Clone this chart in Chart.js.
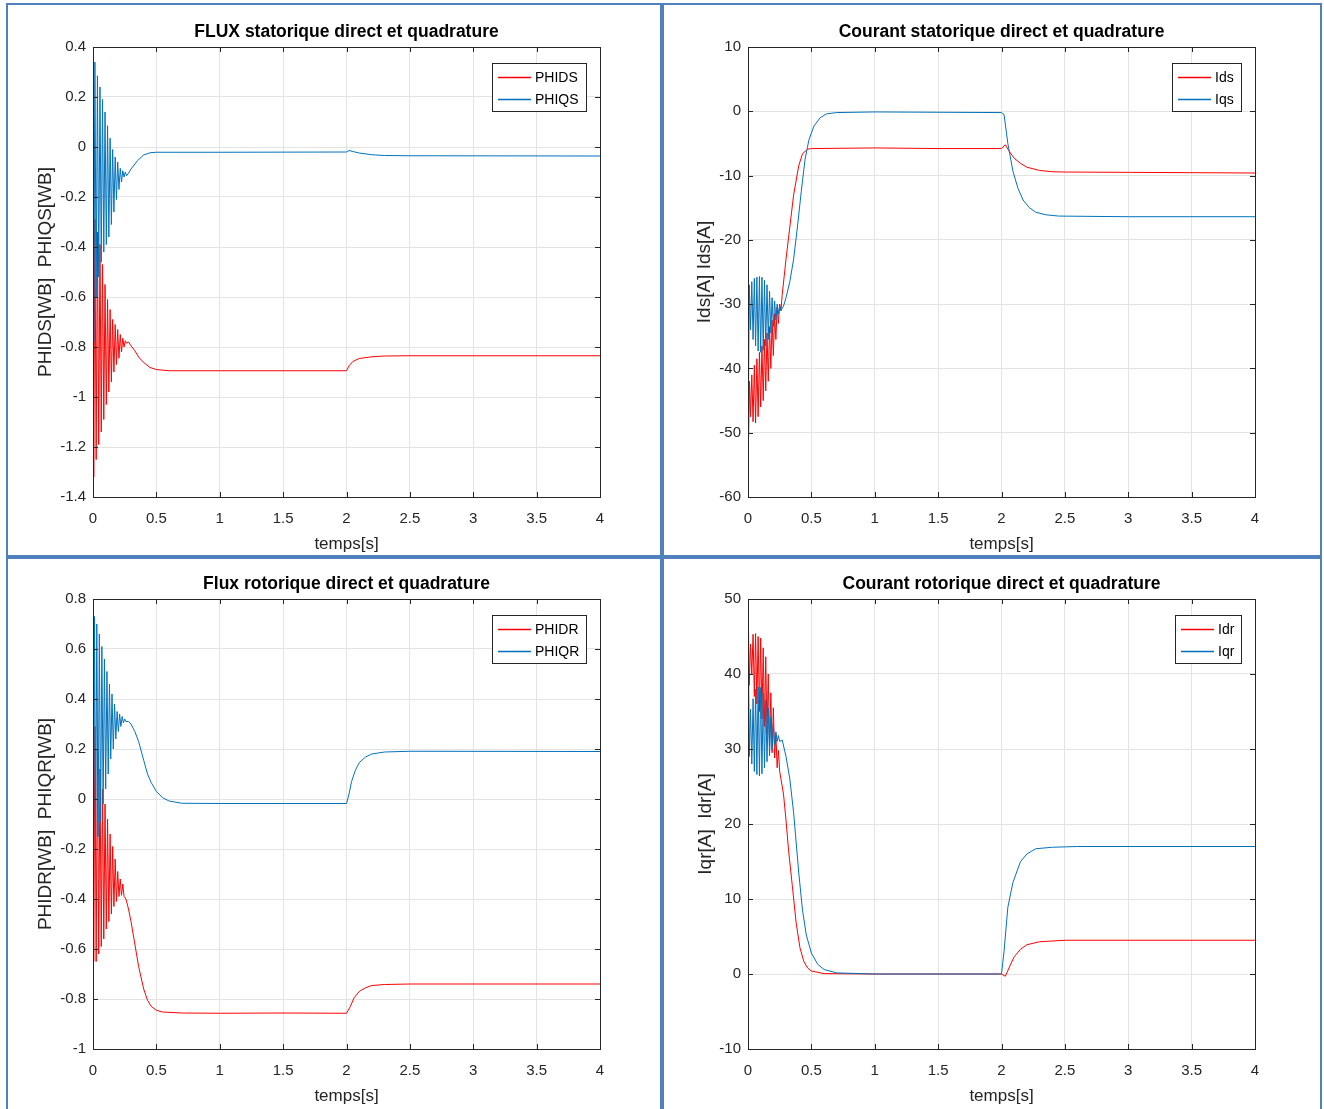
<!DOCTYPE html>
<html>
<head>
<meta charset="utf-8">
<script src="https://cdn.jsdelivr.net/npm/chart.js@4.4.1/dist/chart.umd.min.js"></script>
<style>
  body { margin: 0; background: #fff; width: 1324px; height: 1109px; overflow: hidden; position: relative; }
  .box { position: absolute; border: 2px solid #4f81bd; box-sizing: border-box; }
  canvas { position: absolute; }
</style>
</head>
<body>
<div class="box" style="left:6px;top:3px;width:656px;height:554px"></div>
<div class="box" style="left:662px;top:3px;width:660px;height:554px"></div>
<div class="box" style="left:6px;top:557px;width:656px;height:560px"></div>
<div class="box" style="left:662px;top:557px;width:660px;height:560px"></div>
<canvas id="c1" width="650" height="548" style="left:9px;top:7px"></canvas>
<canvas id="c2" width="655" height="548" style="left:664px;top:7px"></canvas>
<canvas id="c3" width="650" height="548" style="left:9px;top:559px"></canvas>
<canvas id="c4" width="655" height="548" style="left:664px;top:559px"></canvas>
<script>
// time axis ticks (s)
const xTickVals = [0, 0.5, 1, 1.5, 2, 2.5, 3, 3.5, 4];

// flux statorique
const yTicks1 = [-1.4, -1.2, -1, -0.8, -0.6, -0.4, -0.2, 0, 0.2, 0.4];
const tPhids = [0, 0.005, 0.015, 0.025, 0.035, 0.045, 0.055, 0.065, 0.075, 0.085, 0.095, 0.105, 0.115, 0.125,
  0.135, 0.145, 0.155, 0.165, 0.175, 0.185, 0.195, 0.205, 0.215, 0.225, 0.235, 0.245, 0.255, 0.265,
  0.28, 0.3, 0.33, 0.36, 0.4, 0.45, 0.5, 0.6, 1, 1.5, 2, 2.02, 2.05, 2.1, 2.2, 2.3, 2.5, 3, 4];
const phids = [0, -1.32, -0.29, -1.25, -0.34, -1.19, -0.39, -1.14, -0.47, -1.09, -0.55, -1.03, -0.61, -0.98,
  -0.65, -0.94, -0.69, -0.9, -0.71, -0.87, -0.73, -0.845, -0.75, -0.82, -0.765, -0.8, -0.775, -0.785,
  -0.78, -0.795, -0.815, -0.84, -0.862, -0.882, -0.89, -0.895, -0.895, -0.895, -0.895, -0.875, -0.858, -0.846, -0.839, -0.836, -0.835, -0.835, -0.835];
const tPhiqs = [0, 0.005, 0.015, 0.025, 0.035, 0.045, 0.055, 0.065, 0.075, 0.085, 0.095, 0.105, 0.115, 0.125,
  0.135, 0.145, 0.155, 0.165, 0.175, 0.185, 0.195, 0.205, 0.215, 0.225, 0.235, 0.245, 0.255, 0.265,
  0.28, 0.3, 0.35, 0.4, 0.45, 0.5, 1, 2, 2.02, 2.05, 2.1, 2.2, 2.3, 2.5, 4];
const phiqs = [0, -0.78, 0.34, -0.6, 0.285, -0.52, 0.24, -0.46, 0.19, -0.42, 0.14, -0.39, 0.085, -0.36,
  0.035, -0.31, -0.01, -0.26, -0.04, -0.21, -0.06, -0.17, -0.085, -0.14, -0.095, -0.12, -0.1, -0.115,
  -0.105, -0.088, -0.055, -0.032, -0.023, -0.021, -0.021, -0.02, -0.014, -0.018, -0.024, -0.031, -0.034, -0.035, -0.036];

// courant statorique
const yTicks2 = [-60, -50, -40, -30, -20, -10, 0, 10];
const tIds = [0, 0.003, 0.012, 0.02, 0.03, 0.04, 0.05, 0.06, 0.07, 0.08, 0.09, 0.1, 0.11, 0.12, 0.13, 0.14,
  0.15, 0.16, 0.17, 0.18, 0.19, 0.2, 0.21, 0.22, 0.23, 0.24, 0.25, 0.26, 0.27,
  0.3, 0.33, 0.36, 0.4, 0.43, 0.47, 0.5, 1, 1.5, 2, 2.03, 2.06, 2.1, 2.15, 2.2, 2.3, 2.4, 2.5, 3, 4];
const ids = [0, -52.5, -42, -47.5, -41, -48.3, -39.5, -48.5, -38.5, -47.5, -37.5, -46, -36.5, -45, -35.5, -43.5,
  -34.5, -42, -33.5, -40, -32.5, -38, -31.5, -35.5, -30.5, -33, -30, -31, -28.5,
  -23, -18, -13, -8.5, -6.6, -5.9, -5.8, -5.7, -5.8, -5.8, -5.2, -6.2, -7.3, -8.1, -8.7, -9.2, -9.4, -9.45, -9.5, -9.6];
const tIqs = [0, 0.003, 0.01, 0.02, 0.03, 0.04, 0.05, 0.06, 0.07, 0.08, 0.09, 0.1, 0.11, 0.12, 0.13, 0.14,
  0.15, 0.16, 0.17, 0.18, 0.19, 0.2, 0.21, 0.22, 0.23, 0.24, 0.25, 0.26,
  0.28, 0.3, 0.33, 0.36, 0.39, 0.42, 0.45, 0.48, 0.52, 0.57, 0.62, 0.7, 1, 1.5, 2,
  2.02, 2.05, 2.09, 2.13, 2.17, 2.22, 2.27, 2.35, 2.45, 3, 4];
const iqs = [0, -47, -27, -34, -26.5, -35.5, -26, -36.5, -25.8, -37.3, -25.7, -37.5, -25.8, -37.2, -26.3, -36.5,
  -27, -35.5, -28, -34.5, -29, -33.5, -29.5, -32.5, -30, -31.5, -30.3, -31,
  -30.3, -29, -26.5, -23, -18, -12.5, -7.5, -4.5, -2.3, -1, -0.4, -0.2, -0.1, -0.15, -0.2,
  -0.5, -5, -9.3, -12, -13.8, -15, -15.7, -16.1, -16.3, -16.4, -16.4];

// flux rotorique
const yTicks3 = [-1, -0.8, -0.6, -0.4, -0.2, 0, 0.2, 0.4, 0.6, 0.8];
const tPhidr = [0, 0.005, 0.015, 0.025, 0.035, 0.045, 0.055, 0.065, 0.075, 0.085, 0.095, 0.105, 0.115, 0.125,
  0.135, 0.145, 0.155, 0.165, 0.175, 0.185, 0.195, 0.205, 0.215, 0.225, 0.235, 0.245,
  0.26, 0.28, 0.3, 0.33, 0.36, 0.4, 0.43, 0.46, 0.5, 0.55, 0.7, 1, 1.5, 2, 2.03, 2.06, 2.1, 2.15, 2.2, 2.3, 2.5, 4];
const phidr = [0, -0.65, 0.29, -0.65, 0.2, -0.62, 0.12, -0.59, 0.04, -0.56, -0.02, -0.52, -0.08, -0.49,
  -0.14, -0.46, -0.19, -0.43, -0.24, -0.41, -0.29, -0.39, -0.32, -0.385, -0.34, -0.39,
  -0.4, -0.44, -0.49, -0.58, -0.67, -0.76, -0.805, -0.83, -0.845, -0.852, -0.856, -0.857, -0.856, -0.857,
  -0.83, -0.795, -0.77, -0.755, -0.746, -0.742, -0.74, -0.74];
const tPhiqr = [0, 0.004, 0.012, 0.02, 0.03, 0.04, 0.05, 0.06, 0.07, 0.08, 0.09, 0.1, 0.11, 0.12, 0.13, 0.14,
  0.15, 0.16, 0.17, 0.18, 0.19, 0.2, 0.21, 0.22, 0.23, 0.24, 0.25, 0.26,
  0.28, 0.3, 0.33, 0.36, 0.4, 0.43, 0.46, 0.5, 0.55, 0.6, 0.7, 1, 1.5, 2,
  2.02, 2.04, 2.07, 2.1, 2.15, 2.2, 2.3, 2.5, 4];
const phiqr = [0, -0.16, 0.73, -0.2, 0.7, -0.15, 0.66, -0.09, 0.61, -0.02, 0.56, 0.04, 0.51, 0.1, 0.46, 0.16,
  0.42, 0.2, 0.38, 0.24, 0.35, 0.27, 0.34, 0.29, 0.33, 0.305, 0.32, 0.31,
  0.31, 0.3, 0.27, 0.23, 0.155, 0.1, 0.065, 0.03, 0.005, -0.008, -0.017, -0.018, -0.018, -0.018,
  0.02, 0.07, 0.115, 0.145, 0.168, 0.18, 0.188, 0.191, 0.19];

// courant rotorique
const yTicks4 = [-10, 0, 10, 20, 30, 40, 50];
const tIdr = [0, 0.004, 0.01, 0.02, 0.03, 0.04, 0.05, 0.06, 0.07, 0.08, 0.09, 0.1, 0.11, 0.12, 0.13, 0.14,
  0.15, 0.16, 0.17, 0.18, 0.19, 0.2, 0.21, 0.22, 0.23, 0.24, 0.25,
  0.26, 0.28, 0.3, 0.32, 0.35, 0.38, 0.41, 0.44, 0.47, 0.5, 0.6, 1, 1.5, 2,
  2.03, 2.07, 2.1, 2.15, 2.2, 2.3, 2.5, 4];
const idr = [0, 46, 38.5, 44, 40, 45.3, 37, 45.4, 36, 45, 35, 44.8, 34, 43.5, 33, 42.3,
  32, 40, 30.5, 37.5, 29.5, 35.5, 28.8, 32, 27.5, 29.8, 27,
  26, 24, 20.5, 16.5, 11.7, 6.8, 3.5, 1.7, 0.8, 0.4, 0.05, 0, 0, 0,
  -0.3, 1.2, 2.3, 3.3, 3.9, 4.3, 4.5, 4.5];
const tIqr = [0, 0.004, 0.01, 0.02, 0.03, 0.04, 0.05, 0.06, 0.07, 0.08, 0.09, 0.1, 0.11, 0.12, 0.13, 0.14,
  0.15, 0.16, 0.17, 0.18, 0.19, 0.2, 0.21, 0.22, 0.23, 0.24, 0.25,
  0.27, 0.3, 0.33, 0.36, 0.4, 0.43, 0.46, 0.5, 0.55, 0.6, 0.7, 1, 1.5, 2,
  2.02, 2.05, 2.09, 2.15, 2.2, 2.27, 2.4, 2.6, 4];
const iqr = [0, 42, 29, 35.3, 28, 36.7, 27, 38, 26.6, 38.3, 26.4, 38.2, 26.7, 37.5, 27.5, 36.5,
  28.3, 35.5, 29.1, 34.3, 30, 33.3, 30.6, 32.3, 31, 31.8, 31,
  31.2, 29, 26, 21.5, 13.6, 8.5, 5.2, 2.8, 1.3, 0.6, 0.15, 0, 0, 0,
  3, 8.9, 12.2, 15, 16, 16.7, 16.9, 17, 17];

const FONT = "'Liberation Sans', Arial, Helvetica, sans-serif";
const RED = '#ff0000', BLUE = '#0072bd', AX = '#262626', GRID = '#e3e3e3';
Chart.defaults.font.family = FONT;
Chart.defaults.color = AX;

const pts = (t, v) => t.map((x, i) => ({ x: x, y: v[i] }));
const fmt = v => String(Math.round(v * 100) / 100);

// title, axes box with inner ticks, boxed legend
const decor = {
  id: 'decor',
  afterDatasetsDraw(chart, args, opts) {
    const { ctx, chartArea: a, scales: { x, y } } = chart;
    ctx.save();
    ctx.strokeStyle = AX;
    ctx.lineWidth = 1;
    ctx.beginPath();
    x.ticks.forEach(t => {
      const px = Math.round(x.getPixelForValue(t.value)) + 0.5;
      ctx.moveTo(px, a.bottom); ctx.lineTo(px, a.bottom - 5);
      ctx.moveTo(px, a.top); ctx.lineTo(px, a.top + 5);
    });
    y.ticks.forEach(t => {
      const py = Math.round(y.getPixelForValue(t.value)) + 0.5;
      ctx.moveTo(a.left, py); ctx.lineTo(a.left + 5, py);
      ctx.moveTo(a.right, py); ctx.lineTo(a.right - 5, py);
    });
    ctx.stroke();
    ctx.strokeRect(a.left + 0.5, a.top + 0.5, a.right - a.left, a.bottom - a.top);

    ctx.fillStyle = '#000';
    ctx.font = 'bold 17.5px ' + FONT;
    ctx.textAlign = 'center';
    ctx.textBaseline = 'middle';
    ctx.fillText(opts.title, (a.left + a.right) / 2, a.top - 15);

    ctx.font = '14px ' + FONT;
    const items = opts.items;
    const tw = Math.max(...items.map(d => ctx.measureText(d.label).width));
    const w = Math.round(43 + tw + 7), h = 48;
    const bx = Math.round(a.right - 14 - w), by = a.top + 16;
    ctx.fillStyle = '#fff';
    ctx.fillRect(bx, by, w, h);
    ctx.strokeStyle = AX;
    ctx.strokeRect(bx + 0.5, by + 0.5, w, h);
    ctx.textAlign = 'left';
    items.forEach((d, i) => {
      const ly = by + 14 + i * 22;
      ctx.beginPath();
      ctx.lineWidth = 1.5;
      ctx.strokeStyle = d.color;
      ctx.moveTo(bx + 6, ly + 0.5);
      ctx.lineTo(bx + 39, ly + 0.5);
      ctx.stroke();
      ctx.fillStyle = '#000';
      ctx.fillText(d.label, bx + 43, ly + 1);
    });
    ctx.restore();
  }
};

function makePanel(id, title, yTitle, yTicks, yPad, names, red, blue) {
  const canvas = document.getElementById(id);
  new Chart(canvas, {
    type: 'line',
    data: {
      datasets: [
        { label: names[1], data: blue, borderColor: BLUE, borderWidth: 1, pointRadius: 0 },
        { label: names[0], data: red, borderColor: RED, borderWidth: 1, pointRadius: 0 }
      ]
    },
    options: {
      responsive: false,
      animation: false,
      events: [],
      layout: { padding: { left: 0, top: 40, bottom: 0, right: canvas.width > 650 ? 64 : 59 } },
      plugins: {
        legend: { display: false },
        tooltip: { enabled: false },
        decor: { title: title, items: [{ label: names[0], color: RED }, { label: names[1], color: BLUE }] }
      },
      scales: {
        x: {
          type: 'linear', min: 0, max: 4,
          afterBuildTicks: s => { s.ticks = xTickVals.map(v => ({ value: v })); },
          afterFit: s => { s.height = 58; },
          ticks: { padding: 13, font: { size: 15 }, color: AX, callback: fmt, maxRotation: 0, autoSkip: false },
          grid: { color: GRID, drawTicks: false },
          border: { display: false },
          title: { display: true, text: 'temps[s]', font: { size: 17 }, color: AX, padding: { top: 0, bottom: 0 } }
        },
        y: {
          min: yTicks[0], max: yTicks[yTicks.length - 1],
          afterBuildTicks: s => { s.ticks = yTicks.map(v => ({ value: v })); },
          afterFit: s => { s.width = 84; },
          ticks: { padding: 7, font: { size: 15 }, color: AX, callback: fmt, autoSkip: false },
          grid: { color: GRID, drawTicks: false },
          border: { display: false },
          title: { display: true, text: yTitle, font: { size: 19 }, color: AX, padding: { top: yPad, bottom: 0 } }
        }
      }
    },
    plugins: [decor]
  });
}

makePanel('c1', 'FLUX statorique direct et quadrature', 'PHIDS[WB]  PHIQS[WB]', yTicks1, 25.5,
  ['PHIDS', 'PHIQS'], pts(tPhids, phids), pts(tPhiqs, phiqs));
makePanel('c2', 'Courant statorique direct et quadrature', 'Ids[A] Ids[A]', yTicks2, 29.5,
  ['Ids', 'Iqs'], pts(tIds, ids), pts(tIqs, iqs));
makePanel('c3', 'Flux rotorique direct et quadrature', 'PHIDR[WB]  PHIQR[WB]', yTicks3, 25,
  ['PHIDR', 'PHIQR'], pts(tPhidr, phidr), pts(tPhiqr, phiqr));
makePanel('c4', 'Courant rotorique direct et quadrature', 'Iqr[A]  Idr[A]', yTicks4, 30,
  ['Idr', 'Iqr'], pts(tIdr, idr), pts(tIqr, iqr));
</script>
</body>
</html>
